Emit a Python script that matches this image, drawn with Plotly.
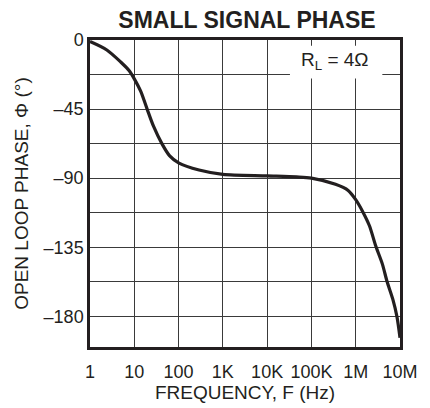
import plotly.graph_objects as go

freq = [1, 2.4, 5, 7.7, 10, 14, 19.5, 27, 42, 63, 100, 290, 1e3, 1e4, 4.6e4, 1e5, 3.5e5,
        6.75e5, 1e6, 1.45e6, 2.04e6, 2.85e6, 4e6, 5.1e6, 6.9e6, 8.5e6, 1e7]
phase = [-1, -6.5, -14.5, -20, -25.3, -33.5, -45, -56, -67.5, -75.5, -80, -84.7, -87.5,
         -88.5, -89.2, -90, -94, -98, -104, -112, -121, -134.4, -146, -157.3,
         -169, -180, -194]

x_tickvals = [1, 10, 100, 1e3, 1e4, 1e5, 1e6, 1e7]
x_ticktext = ["1", "10", "100", "1K", "10K", "100K", "1M", "10M"]
y_tickvals = [0, -45, -90, -135, -180]
y_ticktext = ["0", "–45", "–90", "–135", "–180"]

font = "Liberation Sans, Arial, Helvetica, sans-serif"
ink = "#231f20"

# page has an 8px body margin, so the figure is offset by 8px
W, H = 422, 400
L, R, T, B = 80, 23, 32, 49

fig = go.Figure()
fig.add_trace(go.Scatter(x=freq, y=phase, mode="lines",
                         line=dict(color=ink, width=3.2, shape="spline", smoothing=0.8,
                                   simplify=False),
                         showlegend=False, hoverinfo="skip"))

fig.update_layout(
    width=W, height=H,
    margin=dict(l=L, r=R, t=T, b=B),
    paper_bgcolor="white", plot_bgcolor="white",
    font=dict(family=font, size=18, color=ink),
    title=dict(text="<b>SMALL SIGNAL PHASE</b>", x=239 / W, xanchor="center",
               y=1 - 12 / H, yanchor="middle", font=dict(size=23, family=font, color=ink)),
)
fig.update_xaxes(type="log", range=[0, 7], tickvals=x_tickvals, ticktext=x_ticktext,
                 showgrid=True, gridcolor="#3a3a3a", gridwidth=1,
                 showline=True, linecolor=ink, linewidth=2.5, mirror=True,
                 ticks="", tickfont=dict(size=18), ticklabelstandoff=7,
                 title=dict(text="FREQUENCY, F (Hz)", standoff=0, font=dict(size=19)),
                 zeroline=False)
fig.update_yaxes(range=[-200, 0], tickvals=y_tickvals, ticktext=y_ticktext,
                 showgrid=True, gridcolor="#3a3a3a", gridwidth=1,
                 minor=dict(tick0=0, dtick=22.5, showgrid=True, gridcolor="#3a3a3a", gridwidth=1, ticks=""),
                 showline=True, linecolor=ink, linewidth=2.5, mirror=True,
                 ticks="", tickfont=dict(size=18),
                 title=dict(text="OPEN LOOP PHASE, Φ (°)", standoff=10, font=dict(size=19)),
                 zeroline=False)

fig.add_shape(type="rect", xref="paper", yref="paper", x0=0.645, x1=0.943, y0=0.875, y1=0.981,
              fillcolor="white", line=dict(width=0), layer="above")
fig.add_annotation(xref="paper", yref="paper", x=0.79, y=0.931, xanchor="center", yanchor="middle",
                   text="R<sub>L</sub> = 4Ω", showarrow=False, font=dict(size=19, family=font, color=ink))

fig.write_html("out.html")
